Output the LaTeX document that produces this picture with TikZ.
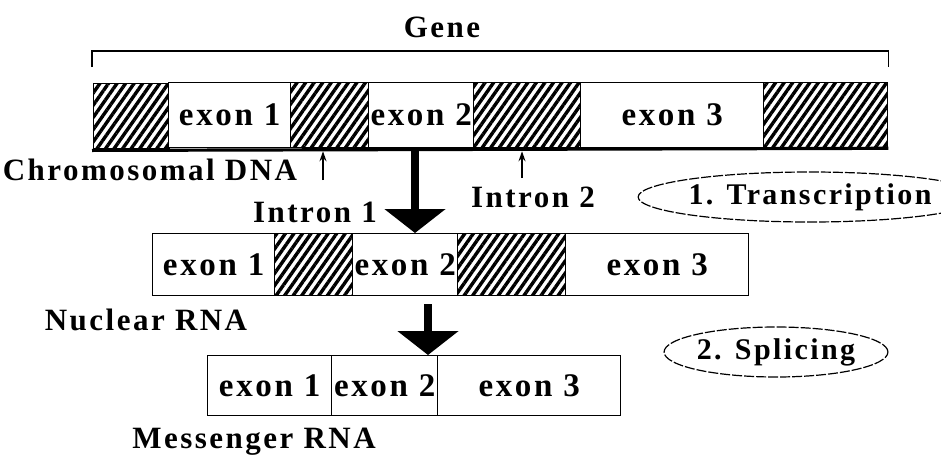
\documentclass[tikz,border=0pt]{standalone}
\usepackage{fontspec}
\setmainfont{Liberation Serif}
\newfontfamily\spacedserif{Liberation Serif}[LetterSpace=8.0]
\usetikzlibrary{arrows.meta,patterns.meta,shapes.geometric}

\tikzset{
  seg/.style={draw, line width=1.3pt, inner sep=0pt, anchor=north west,
    font=\spacedserif\fontsize{33}{35}\selectfont\bfseries},
  exonbox/.style={seg, fill=white},
  intronbox/.style={seg, pattern={Lines[angle=55,distance=7pt,line width=3.4pt]}},
  lbl/.style={inner sep=0pt, font=\spacedserif\fontsize{31}{33}\selectfont\bfseries},
  stage/.style={ellipse, draw, dashed, dash pattern=on 10pt off 2pt, line width=1.2pt,
    inner sep=0pt, font=\spacedserif\fontsize{30}{32}\selectfont\bfseries},
  bigarrow/.style={line width=8pt, -{Triangle[width=60pt,length=24pt]}},
  markarrow/.style={line width=1.6pt, -{Stealth[length=10pt,width=7pt]}}
}

\begin{document}
\begin{tikzpicture}[x=1pt,y=-1pt]
\useasboundingbox (0,0) rectangle (941,458);

% chromosomal DNA
\node[intronbox, minimum width=76,  minimum height=65] (d1) at (92,82)  {};
\node[exonbox,   minimum width=122, minimum height=65] (d2) at (168,82) {exon 1};
\node[intronbox, minimum width=78,  minimum height=65] (d3) at (290,82) {};
\node[exonbox,   minimum width=105, minimum height=65] (d4) at (368,82) {exon 2};
\node[intronbox, minimum width=107, minimum height=65] (d5) at (473,82) {};
\node[exonbox,   minimum width=183, minimum height=65] (d6) at (580,82) {exon 3};
\node[intronbox, minimum width=124, minimum height=65] (d7) at (763,82) {};
\draw[line width=3.2pt] (d1.south west) -- (d7.south east);

% gene bracket
\draw[line width=1.3pt] ([yshift=15pt]d1.north west) |- ([yshift=31pt]d7.north east)
  -- ([yshift=15pt]d7.north east);
\node[lbl] (gene) at (442,27) {Gene};

% nuclear RNA
\node[exonbox,   minimum width=122, minimum height=62] (n1) at (152,233) {exon 1};
\node[intronbox, minimum width=78,  minimum height=62] (n2) at (274,233) {};
\node[exonbox,   minimum width=105, minimum height=62] (n3) at (352,233) {exon 2};
\node[intronbox, minimum width=108, minimum height=62] (n4) at (457,233) {};
\node[exonbox,   minimum width=183, minimum height=62] (n5) at (565,233) {exon 3};

% messenger RNA
\node[exonbox, minimum width=124, minimum height=60] (m1) at (207,355) {exon 1};
\node[exonbox, minimum width=106, minimum height=60] (m2) at (331,355) {exon 2};
\node[exonbox, minimum width=183, minimum height=60] (m3) at (437,355) {exon 3};

% labels
\node[lbl] (chrom) at (150,170) {Chromosomal DNA};
\node[lbl] (intA)  at (315,212) {Intron 1};
\node[lbl] (intB)  at (533,197) {Intron 2};
\node[lbl] (nuc)   at (146,320) {Nuclear RNA};
\node[lbl] (mes)   at (254,442) {Messenger RNA};
\node[stage, minimum width=255, minimum height=50] (tr) at (810,197) {1. Transcription};
\node[stage, minimum width=180, minimum height=50] (sp) at (776,352) {2. Splicing};

% intron markers
\coordinate (p1) at (323,180);
\coordinate (p2) at (522,178);
\draw[markarrow, shorten >=3pt] (p1) -- (p1 |- d3.south);
\draw[markarrow, shorten >=3pt] (p2) -- (p2 |- d5.south);

% processing arrows
\coordinate (a1) at (415,0);
\coordinate (a2) at (428,0);
\draw[bigarrow, shorten <=3pt] (d4.south -| a1) -- (n3.north -| a1);
\draw[bigarrow, shorten <=8pt] (n3.south -| a2) -- (m2.north -| a2);
\end{tikzpicture}
\end{document}
